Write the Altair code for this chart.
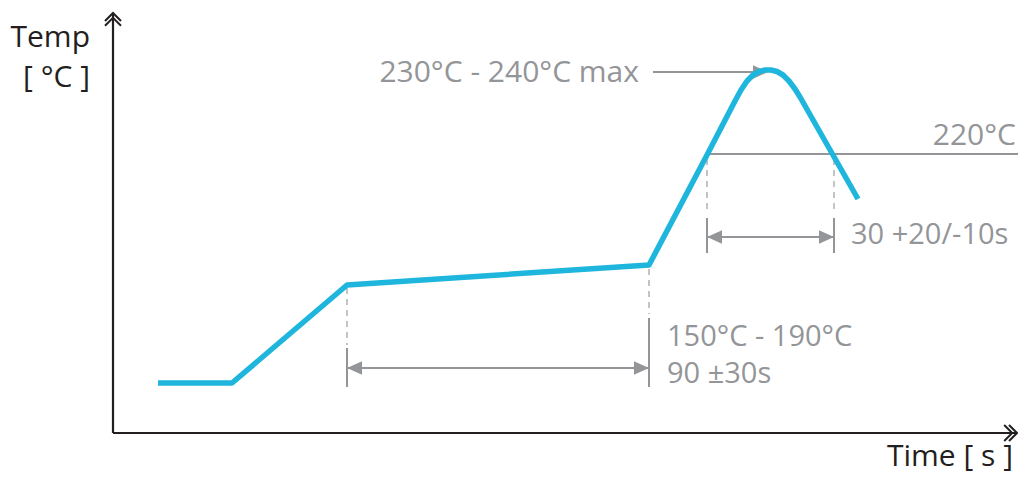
import altair as alt
import pandas as pd

# Schematic reflow profile. x = position along the time axis, y = height along the temperature axis
profile_x = [158, 232, 347, 649, 707, 735, 741, 747, 753, 759, 765, 771, 777, 783, 789, 795, 800, 858]
profile_y = [102, 102, 200, 220, 330, 384, 395, 404, 410, 413.5, 415, 415, 413.5, 410, 404, 396, 388, 286]

# Axes lines (x, y, x2, y2)
axis_x1 = [113, 113]
axis_y1 = [52, 52]
axis_x2 = [113, 1016]
axis_y2 = [472, 52]

# Axis chevron arrowheads
chev_x = [113, 1012.2]
chev_y = [467.2, 52]
chev_angle = [0, 90]

# Solid gray guide lines
guide_x1 = [707, 653, 347, 707, 347, 649, 707, 834]
guide_y1 = [331, 413, 117, 248, 137, 167, 267, 267]
guide_x2 = [1018, 757, 649, 834, 347, 649, 707, 834]
guide_y2 = [331, 413, 117, 248, 98, 98, 232, 232]

# Dashed gray guide lines
dash_x1 = [347, 649, 707, 834]
dash_y1 = [197, 216, 326, 326]
dash_x2 = [347, 649, 707, 834]
dash_y2 = [140, 171, 271, 271]

# Filled arrowheads
head_x = [760.5, 354.5, 641.5, 714.5, 826.5]
head_y = [413, 117, 117, 248, 248]
head_angle = [0, 180, 0, 180, 0]

# Labels
dark_labels = ["Temp", "[ °C ]", "Time [ s ]"]
dark_x = [90, 90, 1013]
dark_y = [438, 398, 19]

gray_right_labels = ["230°C - 240°C max", "220°C"]
gray_right_x = [639, 1016]
gray_right_y = [403, 340]

gray_left_labels = ["30 +20/-10s", "150°C - 190°C", "90 ±30s"]
gray_left_x = [851, 667, 667]
gray_left_y = [241, 139, 102]

W, H = 1010, 469
xs = alt.Scale(domain=[8, 8 + W], nice=False, zero=False)
ys = alt.Scale(domain=[8, 8 + H], nice=False, zero=False)

DARK = "#231f20"
GRAY = "#939598"
LIGHT = "#c3c4c6"
BLUE = "#1fb6de"
FONT = "Open Sans"

def X(f):
    return alt.X(f, type="quantitative", scale=xs, axis=None)

def Y(f):
    return alt.Y(f, type="quantitative", scale=ys, axis=None)

profile = pd.DataFrame({"x": profile_x, "y": profile_y, "o": list(range(len(profile_x)))})
axes_df = pd.DataFrame({"x": axis_x1, "y": axis_y1, "x2": axis_x2, "y2": axis_y2})
chev_df = pd.DataFrame({"x": chev_x, "y": chev_y, "a": chev_angle})
guide_df = pd.DataFrame({"x": guide_x1, "y": guide_y1, "x2": guide_x2, "y2": guide_y2})
dash_df = pd.DataFrame({"x": dash_x1, "y": dash_y1, "x2": dash_x2, "y2": dash_y2})
head_df = pd.DataFrame({"x": head_x, "y": head_y, "a": head_angle})
dark_df = pd.DataFrame({"x": dark_x, "y": dark_y, "t": dark_labels})
gr_df = pd.DataFrame({"x": gray_right_x, "y": gray_right_y, "t": gray_right_labels})
gl_df = pd.DataFrame({"x": gray_left_x, "y": gray_left_y, "t": gray_left_labels})

axes_layer = alt.Chart(axes_df).mark_rule(color=DARK, strokeWidth=2.2).encode(
    x=X("x"), y=Y("y"), x2="x2:Q", y2="y2:Q")

chev_layer = alt.Chart(chev_df).mark_point(
    shape="M-1,0.4L0,-0.6L1,0.4M-1,1L0,0L1,1", size=256, filled=False,
    color=DARK, strokeWidth=2, opacity=1).encode(
    x=X("x"), y=Y("y"), angle=alt.Angle("a:Q", scale=None))

guide_layer = alt.Chart(guide_df).mark_rule(color=GRAY, strokeWidth=2).encode(
    x=X("x"), y=Y("y"), x2="x2:Q", y2="y2:Q")

dash_layer = alt.Chart(dash_df).mark_rule(color=LIGHT, strokeWidth=2, strokeDash=[6, 5]).encode(
    x=X("x"), y=Y("y"), x2="x2:Q", y2="y2:Q")

head_layer = alt.Chart(head_df).mark_point(
    shape="M1,0L-1,-0.9L-1,0.9Z", size=225, filled=True, color=GRAY,
    strokeWidth=0, opacity=1).encode(
    x=X("x"), y=Y("y"), angle=alt.Angle("a:Q", scale=None))

profile_layer = alt.Chart(profile).mark_line(
    color=BLUE, strokeWidth=5.5, strokeJoin="round", strokeCap="butt").encode(
    x=X("x"), y=Y("y"), order="o:Q")

dark_text = alt.Chart(dark_df).mark_text(
    align="right", baseline="alphabetic", font=FONT, fontSize=30, color=DARK).encode(
    x=X("x"), y=Y("y"), text="t:N")

gr_text = alt.Chart(gr_df).mark_text(
    align="right", baseline="alphabetic", font=FONT, fontSize=30, color=GRAY).encode(
    x=X("x"), y=Y("y"), text="t:N")

gl_text = alt.Chart(gl_df).mark_text(
    align="left", baseline="alphabetic", font=FONT, fontSize=29, color=GRAY).encode(
    x=X("x"), y=Y("y"), text="t:N")

chart = alt.layer(
    dash_layer, guide_layer, head_layer, axes_layer, chev_layer,
    profile_layer, dark_text, gr_text, gl_text
).properties(
    width=W, height=H, padding=0, autosize=alt.AutoSizeParams(type="none"),
    background="white"
).configure_view(stroke=None)

chart.save("out.html", embed_options={"renderer": "svg", "actions": False})
